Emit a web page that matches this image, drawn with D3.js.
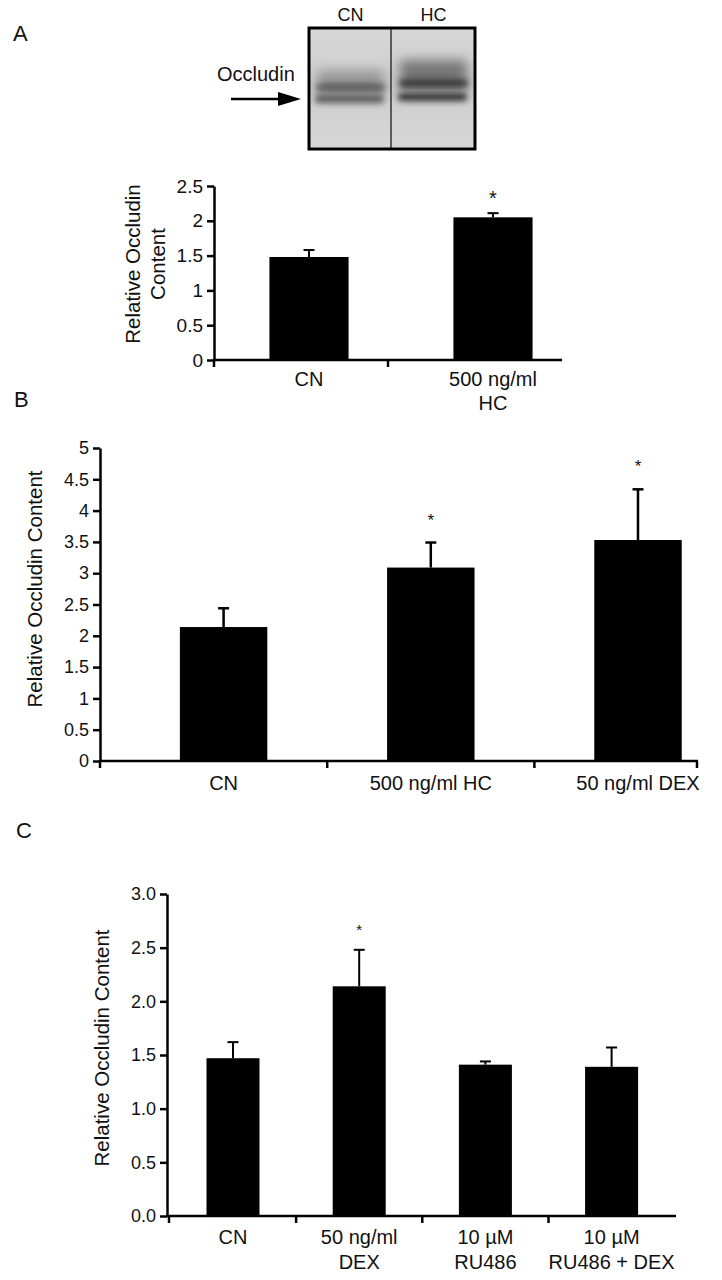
<!DOCTYPE html>
<html>
  <head>
    <meta charset="utf-8">
    <title>Occludin content</title>
    <script src="https://d3js.org/d3.v7.min.js"></script>
    <style>
      body { margin: 0; background: #fff; }
      svg { display: block; font-family: "Liberation Sans", Arial, sans-serif; }
      text { fill: #111; }
      .bar { fill: #000; }
      .err { stroke: #000; stroke-width: 2; fill: none; }
      .axis path, .axis line, .xaxis line { stroke: #000; stroke-width: 2.5; }
      .axis text { fill: #111; }
    </style>
  </head>
  <body>
    <script>
      // panel A
      var catsA = [["CN"], ["500 ng/ml", "HC"]];
      var valsA = [1.48, 2.05];
      var errsA = [0.10, 0.06];
      var sigA = [false, true];
      var ticksA = [0, 0.5, 1, 1.5, 2, 2.5];

      // panel B
      var catsB = [["CN"], ["500 ng/ml HC"], ["50 ng/ml DEX"]];
      var valsB = [2.14, 3.09, 3.53];
      var errsB = [0.30, 0.40, 0.81];
      var sigB = [false, true, true];
      var ticksB = [0, 0.5, 1, 1.5, 2, 2.5, 3, 3.5, 4, 4.5, 5];

      // panel C
      var catsC = [["CN"], ["50 ng/ml", "DEX"], ["10 \u00b5M", "RU486"], ["10 \u00b5M", "RU486 + DEX"]];
      var valsC = [1.47, 2.14, 1.41, 1.39];
      var errsC = [0.15, 0.34, 0.03, 0.18];
      var sigC = [false, true, false, false];
      var ticksC = [0, 0.5, 1.0, 1.5, 2.0, 2.5, 3.0];

      // western blot lanes (band darkness 0..1)
      var blotLanes = ["CN", "HC"];
      var smearBand = [0.4, 0.65];
      var upperBand = [0.6, 0.85];
      var lowerBand = [0.65, 0.9];

      var svg = d3.select('body').append('svg').attr('width', 722).attr('height', 1280);
      var defs = svg.append('defs');

      // ---- blot ----
      var bg = defs.append('linearGradient').attr('id', 'blotbg').attr('x1', 0).attr('y1', 0).attr('x2', 0).attr('y2', 1);
      bg.append('stop').attr('offset', '0%').attr('stop-color', '#d8d8d8');
      bg.append('stop').attr('offset', '50%').attr('stop-color', '#cdcdcd');
      bg.append('stop').attr('offset', '100%').attr('stop-color', '#d7d7d7');
      defs.append('filter').attr('id', 'blur').attr('x', '-20%').attr('y', '-80%').attr('width', '140%').attr('height', '260%')
        .append('feGaussianBlur').attr('stdDeviation', 3.2);
      defs.append('filter').attr('id', 'blur2').attr('x', '-20%').attr('y', '-50%').attr('width', '140%').attr('height', '200%')
        .append('feGaussianBlur').attr('stdDeviation', 6);
      defs.append('clipPath').attr('id', 'blotclip').append('rect')
        .attr('x', 309).attr('y', 28).attr('width', 166).attr('height', 121);

      var laneX = d3.scaleBand().domain(blotLanes).range([309, 475]);
      var blot = svg.append('g');
      blot.append('rect').attr('x', 309).attr('y', 28).attr('width', 166).attr('height', 121).attr('fill', 'url(#blotbg)');
      var lanes = blot.append('g').attr('clip-path', 'url(#blotclip)').selectAll('g').data(blotLanes).enter().append('g');
      var shift = [0, -4];
      lanes.append('rect')
        .attr('x', function(d){ return laneX(d) + 8 })
        .attr('y', function(d, i){ return 70 + shift[i] - i * 6 })
        .attr('width', laneX.bandwidth() - 16).attr('height', function(d, i){ return 24 + i * 6 })
        .attr('fill', '#444').attr('opacity', function(d, i){ return smearBand[i] })
        .attr('filter', 'url(#blur2)');
      lanes.append('rect')
        .attr('x', function(d){ return laneX(d) + 7 })
        .attr('y', function(d, i){ return 84 + shift[i] })
        .attr('width', laneX.bandwidth() - 14).attr('height', 7).attr('rx', 3)
        .attr('fill', '#222').attr('opacity', function(d, i){ return upperBand[i] })
        .attr('filter', 'url(#blur)');
      lanes.append('rect')
        .attr('x', function(d){ return laneX(d) + 6 })
        .attr('y', function(d, i){ return 95 + shift[i] + i * 2 })
        .attr('width', laneX.bandwidth() - 14).attr('height', 8).attr('rx', 3)
        .attr('fill', '#1a1a1a').attr('opacity', function(d, i){ return lowerBand[i] })
        .attr('filter', 'url(#blur)');
      blot.append('line').attr('x1', 391).attr('x2', 391).attr('y1', 28).attr('y2', 149)
        .attr('stroke', '#333').attr('stroke-width', 1.5);
      blot.append('rect').attr('x', 309).attr('y', 28).attr('width', 166).attr('height', 121)
        .attr('fill', 'none').attr('stroke', '#000').attr('stroke-width', 3);
      blot.selectAll('text.lane').data(blotLanes).enter().append('text')
        .attr('x', function(d){ return laneX(d) + laneX.bandwidth() / 2 }).attr('y', 21)
        .attr('text-anchor', 'middle').attr('font-size', 18).text(function(d){ return d });

      svg.append('text').attr('x', 217).attr('y', 81).attr('font-size', 20).text('Occludin');
      svg.append('line').attr('x1', 231).attr('x2', 282).attr('y1', 99).attr('y2', 99)
        .attr('stroke', '#000').attr('stroke-width', 2.5);
      svg.append('path').attr('d', 'M278,92L301,99L278,106Z').attr('fill', '#000');

      // panel letters
      svg.append('text').attr('x', 13).attr('y', 41).attr('font-size', 22).text('A');
      svg.append('text').attr('x', 14).attr('y', 407).attr('font-size', 22).text('B');
      svg.append('text').attr('x', 16).attr('y', 838).attr('font-size', 22).text('C');

      function panel(o) {
        var g = svg.append('g');
        var x = d3.scaleBand().domain(d3.range(o.vals.length)).range(o.band)
          .paddingInner(o.pad).paddingOuter(o.pad / 2);
        var y = d3.scaleLinear().domain([0, o.ymax]).range(o.yRange);

        g.selectAll('rect.bar').data(o.vals).enter().append('rect').attr('class', 'bar')
          .attr('x', function(d, i){ return x(i) })
          .attr('width', x.bandwidth())
          .attr('y', function(d){ return y(d) })
          .attr('height', function(d){ return y(0) - y(d) });

        var eb = g.selectAll('g.eb').data(o.vals).enter().append('g').attr('class', 'err')
          .style('stroke-width', o.errW);
        eb.append('line')
          .attr('x1', function(d, i){ return x(i) + x.bandwidth() / 2 })
          .attr('x2', function(d, i){ return x(i) + x.bandwidth() / 2 })
          .attr('y1', function(d){ return y(d) })
          .attr('y2', function(d, i){ return y(d + o.errs[i]) });
        eb.append('line')
          .attr('x1', function(d, i){ return x(i) + x.bandwidth() / 2 - 5.5 })
          .attr('x2', function(d, i){ return x(i) + x.bandwidth() / 2 + 5.5 })
          .attr('y1', function(d, i){ return y(d + o.errs[i]) })
          .attr('y2', function(d, i){ return y(d + o.errs[i]) });

        g.selectAll('text.star').data(o.vals).enter().filter(function(d, i){ return o.sig[i] })
          .append('text')
          .attr('x', function(d){ return x(o.vals.indexOf(d)) + x.bandwidth() / 2 })
          .attr('y', function(d){ return y(d + o.errs[o.vals.indexOf(d)]) - o.starGap })
          .attr('text-anchor', 'middle').attr('font-size', o.starSize).text('*');

        var ax = g.append('g').attr('class', 'axis').attr('transform', 'translate(' + o.axisX + ',0)')
          .call(d3.axisLeft(y).tickValues(o.ticks).tickFormat(d3.format(o.fmt)).tickSize(7).tickSizeOuter(0).tickPadding(4));
        ax.selectAll('text').attr('font-size', o.tickFont).attr('font-family', '"Liberation Sans", Arial, sans-serif');

        // x axis line with tick marks
        var xa = g.append('g').attr('class', 'xaxis');
        xa.append('line').attr('x1', o.axisX - 1).attr('x2', o.axisEnd).attr('y1', y(0)).attr('y2', y(0));
        var tx = o.xTicks(x);
        xa.selectAll('line.t').data(tx).enter().append('line')
          .attr('x1', function(d){ return d }).attr('x2', function(d){ return d })
          .attr('y1', y(0)).attr('y2', y(0) + 7);

        var lab = g.selectAll('text.cat').data(o.cats).enter().append('text')
          .attr('text-anchor', 'middle').attr('font-size', 20)
          .attr('x', function(d, i){ return x(i) + x.bandwidth() / 2 })
          .attr('y', o.labelY);
        lab.selectAll('tspan').data(function(d){ return d }).enter().append('tspan')
          .attr('x', function(){ return d3.select(this.parentNode).attr('x') })
          .attr('dy', function(d, j){ return j ? o.lineGap : 0 })
          .text(function(d){ return d });

        var yl = g.append('text').attr('text-anchor', 'middle').attr('font-size', 20.5)
          .attr('transform', 'translate(' + o.yLabel[0] + ',' + o.yLabel[1] + ') rotate(-90)');
        yl.selectAll('tspan').data(o.yTitle).enter().append('tspan')
          .attr('x', 0).attr('dy', function(d, j){ return j ? 25 : 0 }).text(function(d){ return d });
      }

      panel({
        cats: catsA, vals: valsA, errs: errsA, sig: sigA, ticks: ticksA, fmt: '~g', ymax: 2.5,
        band: [217, 585], pad: 0.57, yRange: [360, 186], axisX: 214, axisEnd: 562,
        xTicks: function(x){ return [214, (214 + 562) / 2] },
        tickFont: 19, labelY: 386, lineGap: 24, errW: 2, starGap: 8, starSize: 20,
        yLabel: [140, 264], yTitle: ['Relative Occludin', 'Content']
      });

      panel({
        cats: catsB, vals: valsB, errs: errsB, sig: sigB, ticks: ticksB, fmt: '~g', ymax: 5,
        band: [120, 741.6], pad: 0.578, yRange: [761, 448], axisX: 100, axisEnd: 698,
        xTicks: function(x){ return [100, x(1) - x.step() * 0.289, x(2) - x.step() * 0.289, 697] },
        tickFont: 18, labelY: 790, lineGap: 24, errW: 2.5, starGap: 17, starSize: 17,
        yLabel: [42, 589], yTitle: ['Relative Occludin Content']
      });

      panel({
        cats: catsC, vals: valsC, errs: errsC, sig: sigC, ticks: ticksC, fmt: '.1f', ymax: 3,
        band: [169.9, 674.7], pad: 0.58, yRange: [1216, 894], axisX: 167, axisEnd: 676,
        xTicks: function(x){ return [169, x(1) - x.step() * 0.29, x(2) - x.step() * 0.29, x(3) - x.step() * 0.29] },
        tickFont: 18, labelY: 1244, lineGap: 24.5, errW: 2, starGap: 15, starSize: 15,
        yLabel: [109, 1048], yTitle: ['Relative Occludin Content']
      });
    </script>
  </body>
</html>
